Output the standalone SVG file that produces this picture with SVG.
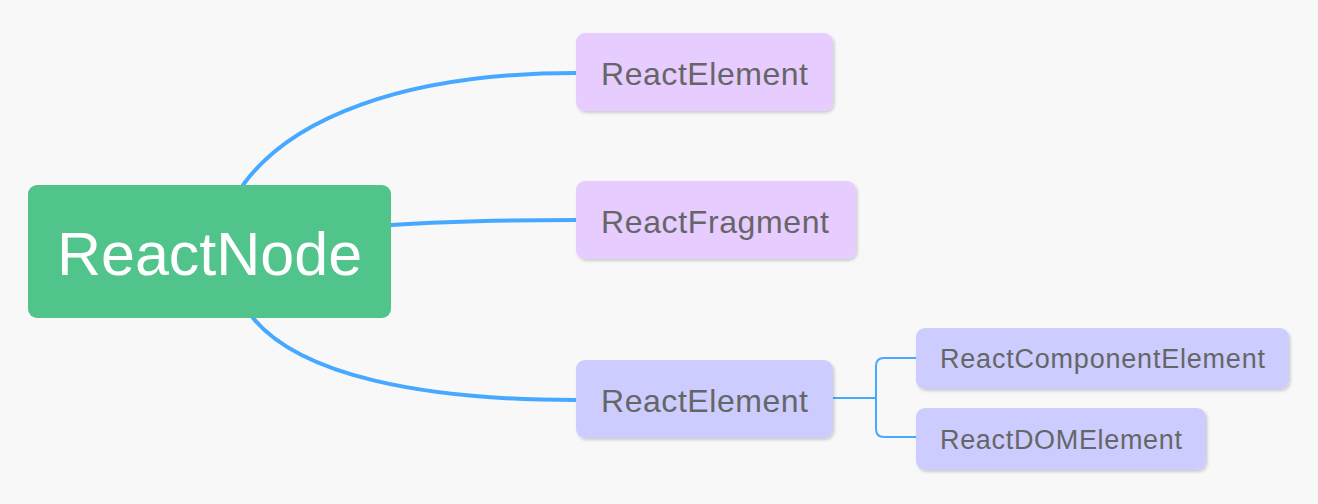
<svg xmlns="http://www.w3.org/2000/svg" width="1318" height="504" viewBox="0 0 1318 504">
<defs>
<style>
.lbl{font-family:"Liberation Sans",Arial,sans-serif;fill:#666666;}
.big{fill:none;stroke:#46A9FF;stroke-width:4;stroke-linecap:round;}
.small{fill:none;stroke:#46A9FF;stroke-width:2;}
.p1{fill:#E6CCFF;}
.p2{fill:#CCCCFF;}
</style>
<filter id="sh" x="-10%" y="-20%" width="120%" height="150%">
<feDropShadow dx="1.5" dy="2" stdDeviation="1.5" flood-color="#000" flood-opacity="0.18"/>
</filter>
</defs>
<rect width="1318" height="504" fill="#F8F8F8"/>
<g id="connectors">
<path class="big" d="M243,185 C290,120 400,73 576,73"/>
<path class="big" d="M391,225 C450,221 500,220 576,220"/>
<path class="big" d="M253,318 C300,375 420,400 576,400"/>
<path class="small" d="M833,398 H876"/>
<path class="small" d="M916,358 H884 Q876,358 876,366 V429 Q876,437 884,437 H916"/>
</g>
<g id="root">
<rect x="28" y="185" width="363" height="133" rx="9" fill="#50C48B"/>
<text x="209.5" y="275" font-family="Liberation Sans,Arial,sans-serif" font-size="61" fill="#FFFFFF" text-anchor="middle">ReactNode</text>
</g>
<g id="node-element-1">
<rect class="p1" x="576" y="33" width="257" height="78" rx="9" filter="url(#sh)"/>
<text class="lbl" x="601" y="85" font-size="32" textLength="207">ReactElement</text>
</g>
<g id="node-fragment">
<rect class="p1" x="576" y="181" width="280" height="78" rx="9" filter="url(#sh)"/>
<text class="lbl" x="601" y="233" font-size="32" textLength="228">ReactFragment</text>
</g>
<g id="node-element-2">
<rect class="p2" x="576" y="360" width="257" height="78" rx="9" filter="url(#sh)"/>
<text class="lbl" x="601" y="412" font-size="32" textLength="207">ReactElement</text>
</g>
<g id="node-component">
<rect class="p2" x="916" y="328" width="373" height="61" rx="9" filter="url(#sh)"/>
<text class="lbl" x="940" y="368" font-size="27" textLength="325">ReactComponentElement</text>
</g>
<g id="node-dom">
<rect class="p2" x="916" y="408" width="290" height="62" rx="9" filter="url(#sh)"/>
<text class="lbl" x="940" y="449" font-size="27" textLength="242">ReactDOMElement</text>
</g>
</svg>
